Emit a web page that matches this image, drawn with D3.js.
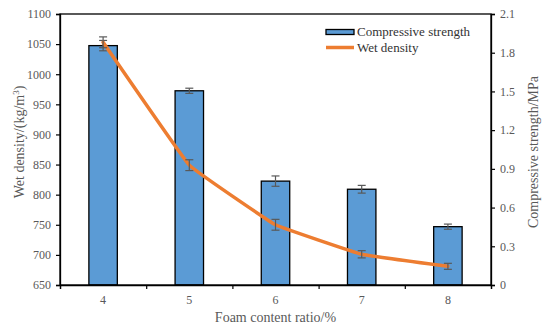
<!DOCTYPE html>
<html>
<head>
<meta charset="utf-8">
<script src="https://cdn.jsdelivr.net/npm/d3@7"></script>
<style>
  body { margin: 0; background: #fff; }
  text { font-family: "Liberation Serif", "Times New Roman", serif; }
</style>
</head>
<body>
<div id="chart"></div>
<script>
// data
const ratios = ["4", "5", "6", "7", "8"];
const strength = [1.855, 1.505, 0.805, 0.742, 0.452];
const strengthErr = [0.04, 0.02, 0.04, 0.03, 0.02];
const density = [1053, 849, 750, 701, 681];
const densityErr = [9, 9, 9, 6, 5];
const densityTicks = [650, 700, 750, 800, 850, 900, 950, 1000, 1050, 1100];
const strengthTicks = [0, 0.3, 0.6, 0.9, 1.2, 1.5, 1.8, 2.1];

const W = 550, H = 330;
const plotL = 60, plotR = 491, plotT = 14, plotB = 285;

const svg = d3.select("#chart")
    .append("svg")
    .attr("width", W)
    .attr("height", H);

const x = d3.scaleBand().domain(ratios).range([plotL, plotR]).paddingInner(0.67).paddingOuter(0.335);
const xc = d => x(d) + x.bandwidth() / 2;
const yL = d3.scaleLinear().domain([650, 1100]).range([plotB, plotT]);
const yR = d3.scaleLinear().domain([0, 2.1]).range([plotB, plotT]);

// bars
svg.append("g").selectAll("rect")
    .data(strength)
    .enter()
    .append("rect")
    .attr("x", (d, i) => x(ratios[i]))
    .attr("y", d => yR(d))
    .attr("width", x.bandwidth())
    .attr("height", d => yR(0) - yR(d))
    .attr("fill", "#5B9BD5")
    .attr("stroke", "#000")
    .attr("stroke-width", 1.3);

// error bars helper
function errBars(g, cx, vals, errs, scale) {
    const cap = 4;
    vals.forEach((v, i) => {
        const y1 = scale(v + errs[i]), y2 = scale(v - errs[i]);
        const c = cx[i];
        g.append("line").attr("x1", c).attr("x2", c).attr("y1", y1).attr("y2", y2);
        g.append("line").attr("x1", c - cap).attr("x2", c + cap).attr("y1", y1).attr("y2", y1);
        g.append("line").attr("x1", c - cap).attr("x2", c + cap).attr("y1", y2).attr("y2", y2);
    });
}
const cxs = ratios.map(xc);
const errG = svg.append("g").attr("stroke", "#595959").attr("stroke-width", 1.2);
errBars(errG, cxs, strength, strengthErr, yR);

// wet density line, only slightly rounded at the points
const line = d3.line()
    .x((d, i) => cxs[i])
    .y(d => yL(d))
    .curve(d3.curveCardinal.tension(0.8));
svg.append("path")
    .datum(density)
    .attr("d", line)
    .attr("fill", "none")
    .attr("stroke", "#ED7D31")
    .attr("stroke-width", 3.5)
    .attr("stroke-linejoin", "round")
    .attr("stroke-linecap", "round");

const errG2 = svg.append("g").attr("stroke", "#595959").attr("stroke-width", 1.2);
errBars(errG2, cxs, density, densityErr, yL);

// frame
svg.append("rect")
    .attr("x", plotL).attr("y", plotT)
    .attr("width", plotR - plotL).attr("height", plotB - plotT)
    .attr("fill", "none").attr("stroke", "#000").attr("stroke-width", 1.3);

// axes
const axL = svg.append("g").attr("transform", `translate(${plotL},0)`)
    .call(d3.axisLeft(yL).tickValues(densityTicks).tickSize(4).tickPadding(5).tickFormat(d3.format("d")));
const axR = svg.append("g").attr("transform", `translate(${plotR},0)`)
    .call(d3.axisRight(yR).tickValues(strengthTicks).tickSize(4).tickPadding(5)
        .tickFormat(d => d === 0 ? "0" : d3.format(".1f")(d)));
const xTickScale = d3.scaleLinear().domain([0, 5]).range([plotL, plotR]);
const axB = svg.append("g").attr("transform", `translate(0,${plotB})`)
    .call(d3.axisBottom(xTickScale).tickValues([0, 1, 2, 3, 4, 5]).tickSize(4).tickFormat(""));
svg.append("g").selectAll("text")
    .data(ratios)
    .enter()
    .append("text")
    .attr("x", d => xc(d))
    .attr("y", 304)
    .attr("text-anchor", "middle")
    .attr("font-size", 12)
    .attr("fill", "#595959")
    .text(d => d);

[axL, axR, axB].forEach(a => {
    a.select(".domain").attr("stroke", "#000").attr("stroke-width", 1.3);
    a.selectAll(".tick line").attr("stroke", "#000").attr("stroke-width", 1.2);
    a.selectAll(".tick text")
        .attr("font-size", 12)
        .attr("fill", "#595959");
});

// axis titles
svg.append("text")
    .attr("transform", `translate(24,142) rotate(-90)`)
    .attr("text-anchor", "middle")
    .attr("font-size", 14)
    .attr("fill", "#595959")
    .html('Wet density/(kg/m<tspan dy="-5" font-size="9">3</tspan><tspan dy="5">)</tspan>');
svg.append("text")
    .attr("transform", `translate(538,152) rotate(-90)`)
    .attr("text-anchor", "middle")
    .attr("font-size", 14)
    .attr("fill", "#595959")
    .text("Compressive strength/MPa");
svg.append("text")
    .attr("x", (plotL + plotR) / 2)
    .attr("y", 322)
    .attr("text-anchor", "middle")
    .attr("font-size", 14)
    .attr("fill", "#595959")
    .text("Foam content ratio/%");

// legend
const lg = svg.append("g");
lg.append("rect")
    .attr("x", 326).attr("y", 29.5).attr("width", 28).attr("height", 5)
    .attr("fill", "#5B9BD5").attr("stroke", "#000").attr("stroke-width", 1.3);
lg.append("text").attr("x", 357).attr("y", 36).attr("font-size", 13).attr("fill", "#333")
    .text("Compressive strength");
lg.append("line")
    .attr("x1", 326).attr("x2", 354).attr("y1", 47.5).attr("y2", 47.5)
    .attr("stroke", "#ED7D31").attr("stroke-width", 3.5);
lg.append("text").attr("x", 357).attr("y", 51.5).attr("font-size", 13).attr("fill", "#333")
    .text("Wet density");
</script>
</body>
</html>
